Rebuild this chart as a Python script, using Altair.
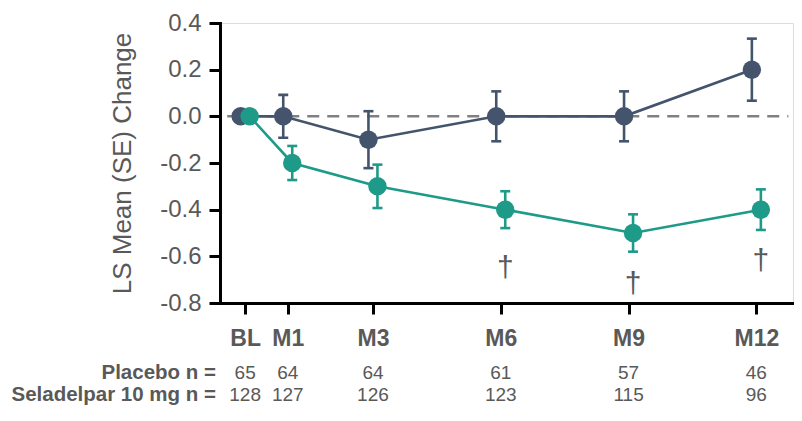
import altair as alt
import pandas as pd

months = [0, 1, 3, 6, 9, 12]
visit_labels = ["BL", "M1", "M3", "M6", "M9", "M12"]
placebo_mean = [0.0, 0.0, -0.10, 0.0, 0.0, 0.20]
placebo_se = [None, 0.092, 0.122, 0.107, 0.107, 0.133]
sel_mean = [0.0, -0.20, -0.30, -0.40, -0.50, -0.40]
sel_se = [None, 0.073, 0.093, 0.079, 0.080, 0.087]
placebo_n = [65, 64, 64, 61, 57, 46]
sel_n = [128, 127, 126, 123, 115, 96]
dagger_months = [6, 9, 12]
dagger_y = [-0.65, -0.72, -0.62]

C_PLA = "#44546C"
C_SEL = "#1E9A88"
GRAY = "#595959"
FONT = "Liberation Sans"

def series_df(mean, se):
    rows = []
    for m, v, s in zip(months, mean, se):
        rows.append({"month": m, "mean": v,
                     "lo": None if s is None else v - s,
                     "hi": None if s is None else v + s})
    return pd.DataFrame(rows)

pla = series_df(placebo_mean, placebo_se)
sel = series_df(sel_mean, sel_se)

xscale = alt.Scale(domain=[-0.59, 12.86], nice=False, zero=False)
yscale = alt.Scale(domain=[-0.8, 0.4], nice=False)

label_map = "{" + ",".join(f"{m}:'{l}'" for m, l in zip(months, visit_labels)) + "}"

x_axis = alt.Axis(values=months, labelExpr=label_map + "[datum.value]", title=None,
                  grid=False, labelFont=FONT, labelFontSize=23, labelFontWeight="bold",
                  labelColor=GRAY, labelPadding=13)
y_axis = alt.Axis(values=[-0.8, -0.6, -0.4, -0.2, 0.0, 0.2, 0.4],
                  labelExpr="replace(format(datum.value, '.1f'), '\u2212', '-')",
                  title="LS Mean (SE) Change", titleFont=FONT, titleFontSize=26,
                  titleFontWeight="normal", titleColor=GRAY, titlePadding=24,
                  grid=False, labelFont=FONT, labelFontSize=24, labelColor=GRAY,
                  labelPadding=8)

def xe(field):
    return alt.X(field, scale=xscale, axis=x_axis)

def ye(field):
    return alt.Y(field, scale=yscale, axis=y_axis)

def series_layers(df, color, off):
    base = alt.Chart(df)
    line = base.mark_line(color=color, strokeWidth=2.6, xOffset=off).encode(
        x=xe("month:Q"), y=ye("mean:Q"))
    eb = base.transform_filter("datum.lo != null")
    rule = eb.mark_rule(color=color, strokeWidth=2.6, xOffset=off, x2Offset=off).encode(
        x=xe("month:Q"), y=ye("lo:Q"), y2="hi:Q")
    cap_lo = eb.mark_tick(color=color, thickness=2.6, size=10, orient="horizontal",
                          xOffset=off, opacity=1).encode(x=xe("month:Q"), y=ye("lo:Q"))
    cap_hi = eb.mark_tick(color=color, thickness=2.6, size=10, orient="horizontal",
                          xOffset=off, opacity=1).encode(x=xe("month:Q"), y=ye("hi:Q"))
    pts = base.mark_circle(color=color, size=340, opacity=1, xOffset=off).encode(
        x=xe("month:Q"), y=ye("mean:Q"))
    return [line, rule, cap_lo, cap_hi, pts]

zero_line = alt.Chart(pd.DataFrame({"a": [-0.42], "b": [12.75], "y": [0.0]})).mark_rule(
    color="#808080", strokeWidth=2.5, strokeDash=[12, 8]).encode(
    x=xe("a:Q"), x2="b:Q", y=ye("y:Q"))

dag_df = pd.DataFrame({"month": dagger_months, "y": dagger_y, "t": ["\u2020"] * 3})
daggers = alt.Chart(dag_df).mark_text(font=FONT, fontSize=30, color=GRAY,
                                      baseline="middle", align="center", xOffset=4.5).encode(
    x=xe("month:Q"), y=ye("y:Q"), text="t:N")

n_df = pd.DataFrame({"month": months, "p": placebo_n, "s": sel_n})
n_pla = alt.Chart(n_df).mark_text(font=FONT, fontSize=19, color=GRAY,
                                  baseline="middle").encode(
    x=xe("month:Q"), y=alt.value(350), text="p:Q")
n_sel = alt.Chart(n_df).mark_text(font=FONT, fontSize=19, color=GRAY,
                                  baseline="middle").encode(
    x=xe("month:Q"), y=alt.value(372), text="s:Q")
row_lab = alt.Chart(pd.DataFrame({"t": ["Placebo n =", "Seladelpar 10 mg n ="],
                                  "yy": [350, 372]})).mark_text(
    font=FONT, fontSize=20.5, fontWeight="bold", color=GRAY,
    align="right", baseline="middle").encode(
    x=alt.value(-4), y=alt.Y("yy:Q", scale=None), text="t:N")

layers = [zero_line] + series_layers(pla, C_PLA, -4.5) + series_layers(sel, C_SEL, 4.5) + \
    [daggers, n_pla, n_sel, row_lab]

chart = alt.layer(*layers).properties(
    width=573, height=280,
    autosize=alt.AutoSizeParams(type="none"),
    padding={"left": 212, "top": 15, "right": 1, "bottom": 110},
).configure_view(stroke=None).configure(background="white").configure_axis(
    domainColor="black", domainWidth=3, domainCap="square",
    tickColor="black", tickWidth=3, tickSize=11)

chart.save("out.html", embed_options={"renderer": "svg", "actions": False})
